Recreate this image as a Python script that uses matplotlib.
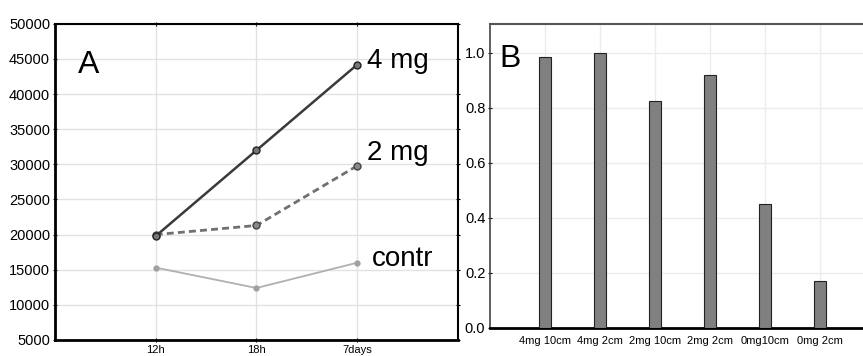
import matplotlib.pyplot as plt

plt.rcParams['font.family'] = ['Liberation Sans', 'DejaVu Sans']

# Panel A data
times = ['12h', '18h', '7days']
mg4 = [19800, 32000, 44200]
mg2 = [20000, 21300, 29800]
contr = [15300, 12400, 16000]

# Panel B data
groups = ['4mg 10cm', '4mg 2cm', '2mg 10cm', '2mg 2cm', '0mg10cm', '0mg 2cm']
ratio = [0.985, 1.0, 0.825, 0.92, 0.45, 0.17]

fig = plt.figure(figsize=(8.63, 3.56), dpi=100)

# ---- Panel A ----
ax = fig.add_axes([0.0637, 0.045, 0.467, 0.888])
xs = list(range(len(times)))
ax.plot(xs, mg4, color='#3a3a3a', lw=1.8, marker='o', markersize=5,
        markerfacecolor='#777777', markeredgecolor='#222222', zorder=5)
ax.plot(xs, mg2, color='#707070', lw=2, ls=(0, (2.5, 1.5)), marker='o', markersize=5,
        markerfacecolor='#888888', markeredgecolor='#444444', zorder=4)
ax.plot(xs, contr, color='#b0b0b0', lw=1.3, marker='o', markersize=3.5,
        markerfacecolor='#a0a0a0', markeredgecolor='#a0a0a0', zorder=3)

ax.set_xlim(-1, 3)
ax.set_ylim(5000, 50000)
ax.set_xticks(xs)
ax.set_xticklabels(times, fontsize=8)
ax.set_yticks(range(5000, 50001, 5000))
ax.tick_params(axis='y', labelsize=10.5, length=3, direction='inout', right=True, pad=2)
ax.tick_params(axis='x', length=3, direction='inout', top=True, pad=2)
ax.grid(True, color='#e2e2e2', lw=1)
for s in ['left', 'bottom']:
    ax.spines[s].set_linewidth(2)
for s in ['top', 'right']:
    ax.spines[s].set_linewidth(1.5)

ax.text(0.057, 0.845, 'A', transform=ax.transAxes, fontsize=23)
ax.text(2.1, mg4[2] + 500, '4 mg', fontsize=20, va='center')
ax.text(2.1, mg2[2] + 1800, '2 mg', fontsize=20, va='center')
ax.text(2.15, contr[2] + 500, 'contr', fontsize=20, va='center')

# ---- Panel B ----
bx = fig.add_axes([0.568, 0.0787, 0.446, 0.854])
bpos = list(range(len(groups)))
bx.bar(bpos, ratio, width=0.22, color='#808080', edgecolor='#222222', lw=0.8, zorder=3)
bx.set_xlim(-1, 6)
bx.set_ylim(0, 1.105)
bx.set_xticks(bpos)
bx.set_xticklabels(groups, fontsize=8)
bx.set_yticks([0.0, 0.2, 0.4, 0.6, 0.8, 1.0])
bx.set_yticklabels(['0.0', '0.2', '0.4', '0.6', '0.8', '1.0'])
bx.tick_params(axis='y', labelsize=10.5, length=3, direction='inout', pad=2)
bx.tick_params(axis='x', length=0, pad=6, top=True)
bx.grid(True, color='#ececec', lw=1)
bx.spines['bottom'].set_linewidth(2)
bx.spines['left'].set_linewidth(1.2)
bx.spines['left'].set_color('#444444')
bx.spines['top'].set_linewidth(1.5)
bx.spines['top'].set_color('#555555')
bx.text(0.025, 0.86, 'B', transform=bx.transAxes, fontsize=23)

fig.savefig('out.png', dpi=100)
